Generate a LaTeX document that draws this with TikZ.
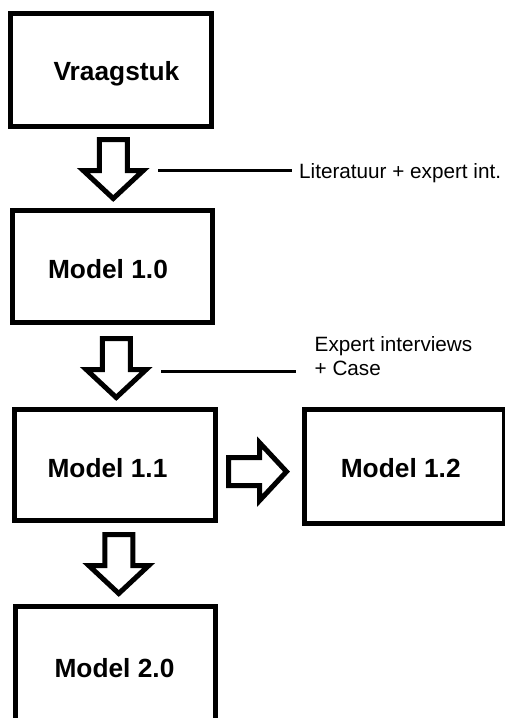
\documentclass[tikz,border=0pt]{standalone}
\usepackage{fontspec}
\setmainfont{Liberation Sans}
\usetikzlibrary{calc}
\tikzset{
  boxnode/.style={draw=black, line width=5pt, fill=none, inner sep=0pt, outer sep=0pt},
  lbl/.style={inner sep=0pt, font=\fontsize{26.3}{31}\selectfont\bfseries, anchor=base},
  note/.style={inner sep=0pt, font=\fontsize{20.7}{24}\selectfont, anchor=base west},
  thinline/.style={draw=black, line width=3pt},
  blockarrow/.style={draw=black, line width=5pt, line join=miter, miter limit=10, fill=white},
  pics/downarr/.style={code={
    \draw[blockarrow] (-14,-29.5) -- (14,-29.5) -- (14,1.5) -- (30,1.5) -- (0,29.5)
      -- (-30,1.5) -- (-14,1.5) -- cycle;}},
  pics/rightarr/.style={code={
    \draw[blockarrow] (-29,-14) -- (2,-14) -- (2,-29) -- (29,0) -- (2,29)
      -- (2,14) -- (-29,14) -- cycle;}}
}
\begin{document}
\begin{tikzpicture}[x=1pt, y=-1pt]
\useasboundingbox (0,0) rectangle (505,718);
\clip (0,0) rectangle (505,718);
\fill[white] (0,0) rectangle (505,718);
% boxes (centre, centreline size)
\node[boxnode, minimum width=201pt, minimum height=113pt] (b0) at (111,70) {};
\node[boxnode, minimum width=200pt, minimum height=112pt] (b1) at (112.5,266.5) {};
\node[boxnode, minimum width=201pt, minimum height=111pt] (b2) at (115,465) {};
\node[boxnode, minimum width=199.5pt, minimum height=113.5pt] (b4) at (404.25,466.25) {};
\node[boxnode, minimum width=200pt, minimum height=120pt] (b3) at (115.5,666.5) {};
% labels
\node[lbl] (t0) at ($(b0.center)+(5.5,10)$) {Vraagstuk};
\node[lbl] (t1) at ($(b1.center)+(-4.5,11.5)$) {Model 1.0};
\node[lbl] (t2) at ($(b2.center)+(-7.5,12.5)$) {Model 1.1};
\node[lbl] (t4) at ($(b4.center)+(-3.5,10.75)$) {Model 1.2};
\node[lbl] (t3) at ($(b3.center)+(-1,10.5)$) {Model 2.0};
% block arrows between boxes
\coordinate (a1) at ($(b0.south)!0.5!(b1.north)+(1.5,0.5)$);
\coordinate (a2) at ($(b1.south)!0.5!(b2.north)+(2.5,2)$);
\coordinate (a3) at ($(b2.south)!0.5!(b3.north)+(3.5,0.5)$);
\coordinate (a4) at ($(b2.east)!0.5!(b4.west)+(-2.5,6)$);
\pic at (a1) {downarr};
\pic at (a2) {downarr};
\pic at (a3) {downarr};
\pic at (a4) {rightarr};
% side notes
\node[note] (n1) at (299,178) {Literatuur + expert int.};
\node[note] (n2) at (314.5,351.5) {Expert interviews};
\node[note] (n3) at (314.5,375) {+ Case};
\coordinate (l1a) at (158,170);
\coordinate (l1b) at (292,170);
\coordinate (l2a) at (161,371);
\coordinate (l2b) at (296,371);
\draw[thinline] (l1a) -- (l1b);
\draw[thinline] (l2a) -- (l2b);
\end{tikzpicture}
\end{document}
